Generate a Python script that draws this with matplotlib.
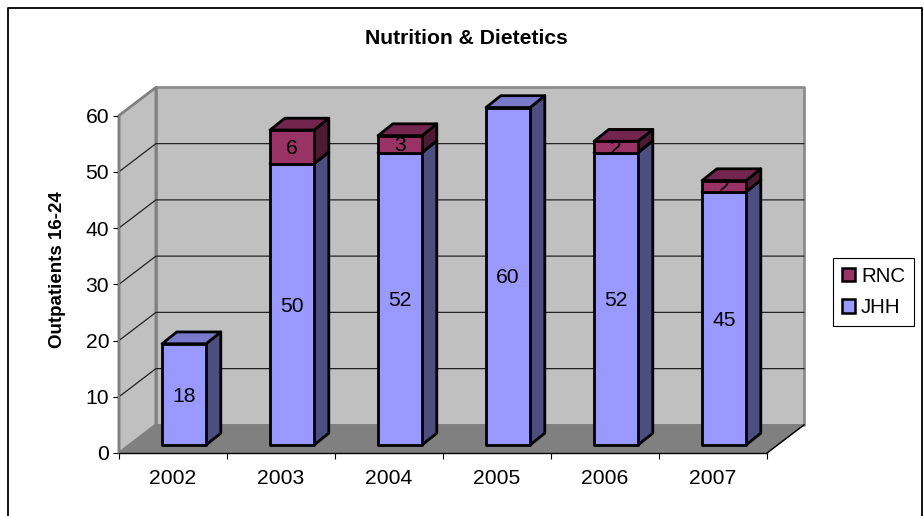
#!/usr/bin/python3
import matplotlib
matplotlib.use('Agg')
import matplotlib.pyplot as plt
from matplotlib.lines import Line2D
from matplotlib.patches import Patch, Polygon

years = ['2002', '2003', '2004', '2005', '2006', '2007']
jhh = [18, 50, 52, 60, 52, 45]
rnc = [0, 6, 3, 0, 2, 2]

W, H = 924, 516

# depth of the box, in category and value units
box_dx = 0.342
box_dy = 5.0
# where the bars sit inside the box
bar_w = 0.407
bar_off_x = 0.102
bar_off_y = 1.42
bar_dx = 0.137
bar_dy = 2.1
# value labels sit a little below the middle of the face
label_drop = 0.3

plt.rcParams['font.family'] = ['Liberation Sans', 'DejaVu Sans']

fig = plt.figure(figsize=(W / 100, H / 100), dpi=100)
ax = fig.add_axes([119 / W, (H - 453) / H, 648 / W, 337.5 / H])
ax.set_xlim(-0.5, 5.5)
ax.set_ylim(0, 60)
ax.patch.set_visible(False)


def poly(pts, fc, ec='black', lw=2.0, z=3):
	ax.add_patch(Polygon(pts, closed=True, facecolor=fc, edgecolor=ec, linewidth=lw,
		joinstyle='round', clip_on=False, zorder=z))


def box3d(x0, x1, y0, y1, front, side, top):
	# front face, right side, lid
	fx0, fx1 = x0 + bar_off_x, x1 + bar_off_x
	fy0, fy1 = y0 + bar_off_y, y1 + bar_off_y
	poly([(fx1, fy0), (fx1 + bar_dx, fy0 + bar_dy), (fx1 + bar_dx, fy1 + bar_dy), (fx1, fy1)], side)
	poly([(fx0, fy1), (fx0 + bar_dx, fy1 + bar_dy), (fx1 + bar_dx, fy1 + bar_dy), (fx1, fy1)], top)
	poly([(fx0, fy0), (fx1, fy0), (fx1, fy1), (fx0, fy1)], front)


# walls and floor
xl, xr = -0.5, 5.5
poly([(xl + box_dx, box_dy), (xr + box_dx, box_dy), (xr + box_dx, 60 + box_dy), (xl + box_dx, 60 + box_dy)],
	'#c0c0c0', ec='#8c8c8c', lw=2, z=1)
poly([(xl, 0), (xl + box_dx, box_dy), (xl + box_dx, 60 + box_dy), (xl, 60)], '#c0c0c0', ec='#808080', lw=2, z=1)
poly([(xl, 0), (xr, 0), (xr + box_dx, box_dy), (xl + box_dx, box_dy)], '#808080', ec='#808080', lw=1, z=1)

# gridlines run along the side wall and the back wall
for v in range(10, 60, 10):
	ax.plot([xl, xl + box_dx, xr + box_dx], [v, v + box_dy, v + box_dy], color='#222222', lw=0.9,
		clip_on=False, zorder=2)
ax.plot([xr, xr + box_dx], [0, box_dy], color='black', lw=1, clip_on=False, zorder=2)

for i, year in enumerate(years):
	x0, x1 = i - bar_w / 2, i + bar_w / 2
	box3d(x0, x1, 0, jhh[i], '#9999ff', '#4d4d80', '#7a7acc')
	ax.text(i + bar_off_x, jhh[i] / 2 + bar_off_y - label_drop, str(jhh[i]), ha='center', va='center',
		fontsize=15.2, zorder=5)
	if rnc[i] > 0:
		box3d(x0, x1, jhh[i], jhh[i] + rnc[i], '#993366', '#4d1a33', '#73264d')
		ax.text(i + bar_off_x, jhh[i] + rnc[i] / 2 + bar_off_y - label_drop, str(rnc[i]), ha='center', va='center',
			fontsize=15.2, zorder=5)

for side in ['top', 'right']:
	ax.spines[side].set_visible(False)
ax.spines['left'].set_color('#808080')
ax.spines['left'].set_linewidth(1.6)
ax.spines['bottom'].set_color('black')
ax.spines['bottom'].set_linewidth(1)
for s in ax.spines.values():
	s.set_zorder(2)

# year ticks fall between the categories
ax.set_xticks([i - 0.5 for i in range(7)])
ax.set_xticklabels([])
ax.tick_params(axis='x', length=4.5, width=0.8, color='black')
for i, year in enumerate(years):
	ax.annotate(year, (i, 0), xytext=(0, -25), textcoords='offset pixels', xycoords='data',
		ha='center', va='center', fontsize=15.2, annotation_clip=False)
ax.set_yticks(range(0, 70, 10))
ax.tick_params(axis='y', length=4, width=0.8, color='black', labelsize=15.2, pad=3)

fig.text(466 / W, 1 - 38.5 / H, 'Nutrition & Dietetics', ha='center', va='center', fontsize=15.2, fontweight='bold')
fig.text(57 / W, 1 - 270 / H, 'Outpatients 16-24', rotation=90, ha='center', va='center', fontsize=13.5,
	fontweight='bold')

handles = [Patch(facecolor='#993366', edgecolor='black', linewidth=1.8, label='RNC'),
	Patch(facecolor='#9999ff', edgecolor='black', linewidth=1.8, label='JHH')]
leg = fig.legend(handles=handles, loc='upper left', bbox_to_anchor=(833 / W, 1 - 258 / H),
	bbox_transform=fig.transFigure, fontsize=14.8, frameon=True, fancybox=False, edgecolor='black',
	framealpha=1, handlelength=0.65, handleheight=0.65, handletextpad=0.3, labelspacing=0.62,
	borderpad=0.42, borderaxespad=0)
leg.get_frame().set_linewidth(0.8)

# outer frame, open at the bottom
frame_x = [8 / W, 8 / W, 922 / W, 922 / W]
frame_y = [0, 1 - 8 / H, 1 - 8 / H, 0]
fig.add_artist(Line2D(frame_x, frame_y, color='#111111', lw=1.4, transform=fig.transFigure))

fig.savefig('out.png', dpi=100)
